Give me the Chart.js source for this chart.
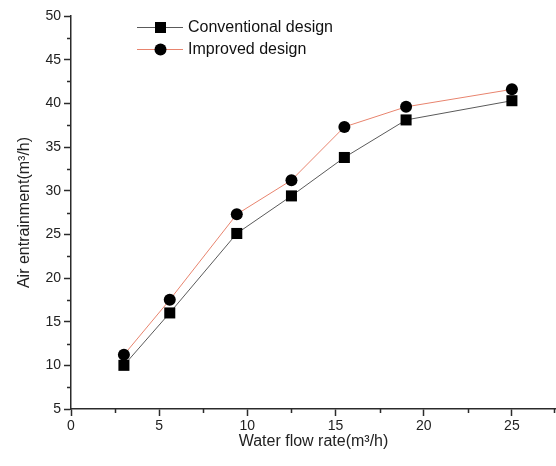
<!DOCTYPE html>
<html>
<head>
<meta charset="utf-8">
<script src="https://cdn.jsdelivr.net/npm/chart.js@4"></script>
<style>
  html, body { margin: 0; padding: 0; background: #fff; overflow: hidden; }
  #wrap { width: 556px; height: 466px; position: relative; }
</style>
</head>
<body>
<div id="wrap"><canvas id="airChart"></canvas></div>
<script>
// data
const flowRates = [3, 5.6, 9.4, 12.5, 15.5, 19, 25];
const conventional = [10.0, 16.0, 25.1, 29.4, 33.8, 38.1, 40.3];
const improved = [11.2, 17.5, 27.3, 31.2, 37.3, 39.6, 41.6];
const seriesNames = ['Conventional design', 'Improved design'];
const xTicks = [0, 5, 10, 15, 20, 25];
const yTicks = [5, 10, 15, 20, 25, 30, 35, 40, 45, 50];

const FONT = "'Liberation Sans', Arial, sans-serif";
const AXIS = '#2b2b2b';

function toPoints(ys) {
  return flowRates.map((x, i) => ({ x: x, y: ys[i] }));
}

// short minor ticks halfway between the major ones
const minorTicks = {
  id: 'minorTicks',
  afterDraw(chart) {
    const ctx = chart.ctx;
    const xs = chart.scales.x, ys = chart.scales.y;
    ctx.save();
    ctx.strokeStyle = AXIS;
    ctx.lineWidth = 1.5;
    ctx.beginPath();
    for (let v = 2.5; v <= 27.5; v += 5) {
      const px = Math.min(Math.round(xs.getPixelForValue(v)) + 0.5, chart.width - 1.5);
      ctx.moveTo(px, xs.top);
      ctx.lineTo(px, xs.top + 4);
    }
    for (let v = 7.5; v < 50; v += 5) {
      const py = Math.round(ys.getPixelForValue(v)) + 0.5;
      ctx.moveTo(ys.right, py);
      ctx.lineTo(ys.right - 4, py);
    }
    ctx.stroke();
    ctx.restore();
  }
};

// legend: line segment with marker, then label
const lineLegend = {
  id: 'lineLegend',
  afterDraw(chart) {
    const ctx = chart.ctx;
    const rows = [27, 49];
    ctx.save();
    chart.data.datasets.forEach((ds, i) => {
      const y = rows[i];
      ctx.strokeStyle = ds.borderColor;
      ctx.lineWidth = 1;
      ctx.beginPath();
      ctx.moveTo(137, y + 0.5);
      ctx.lineTo(183, y + 0.5);
      ctx.stroke();
      ctx.fillStyle = '#000';
      if (ds.pointStyle === 'rect') {
        ctx.fillRect(155, y - 5, 11, 11);
      } else {
        ctx.beginPath();
        ctx.arc(160.5, y + 0.5, 6, 0, Math.PI * 2);
        ctx.fill();
      }
      ctx.fillStyle = '#111';
      ctx.font = '16px ' + FONT;
      ctx.textBaseline = 'middle';
      ctx.fillText(ds.label, 188, y + 1);
    });
    ctx.restore();
  }
};

const ctx = document.getElementById('airChart');
new Chart(ctx, {
  type: 'line',
  data: {
    datasets: [{
      label: seriesNames[0],
      data: toPoints(conventional),
      borderColor: '#5a5a5a',
      borderWidth: 1,
      pointStyle: 'rect',
      pointRadius: 7.8,
      pointBackgroundColor: '#000',
      pointBorderColor: '#000',
      pointBorderWidth: 0,
      tension: 0
    }, {
      label: seriesNames[1],
      data: toPoints(improved),
      borderColor: '#e8846e',
      borderWidth: 1,
      pointStyle: 'circle',
      pointRadius: 6,
      pointBackgroundColor: '#000',
      pointBorderColor: '#000',
      pointBorderWidth: 0,
      tension: 0
    }]
  },
  options: {
    responsive: true,
    maintainAspectRatio: false,
    animation: false,
    layout: { autoPadding: false, padding: { top: 16, right: 0, left: 0, bottom: 0 } },
    plugins: {
      legend: { display: false },
      tooltip: { enabled: false }
    },
    scales: {
      x: {
        type: 'linear',
        min: 0,
        max: 27.5,
        afterBuildTicks: (s) => { s.ticks = xTicks.map(v => ({ value: v })); },
        afterFit: (s) => { s.height = 57; s.paddingRight = 0; },
        border: { display: true, color: AXIS, width: 1.5 },
        grid: { drawOnChartArea: false, drawTicks: true, tickLength: 7, color: AXIS, tickWidth: 1.5 },
        ticks: { color: '#222', font: { family: FONT, size: 14 }, padding: 2, maxRotation: 0 },
        title: {
          display: true,
          text: 'Water flow rate(m³/h)',
          color: '#222',
          font: { family: FONT, size: 16 },
          padding: { top: 2, bottom: 15 }
        }
      },
      y: {
        type: 'linear',
        min: 5,
        max: 50,
        afterBuildTicks: (s) => { s.ticks = yTicks.map(v => ({ value: v })); },
        afterFit: (s) => { s.width = 71; },
        border: { display: true, color: AXIS, width: 1.5 },
        grid: { drawOnChartArea: false, drawTicks: true, tickLength: 7, color: AXIS, tickWidth: 1.5 },
        ticks: { color: '#222', font: { family: FONT, size: 14 }, padding: 3 },
        title: {
          display: true,
          text: 'Air entrainment(m³/h)',
          color: '#222',
          font: { family: FONT, size: 16 },
          padding: { top: 15, bottom: 0 }
        }
      }
    }
  },
  plugins: [minorTicks, lineLegend]
});
</script>
</body>
</html>
